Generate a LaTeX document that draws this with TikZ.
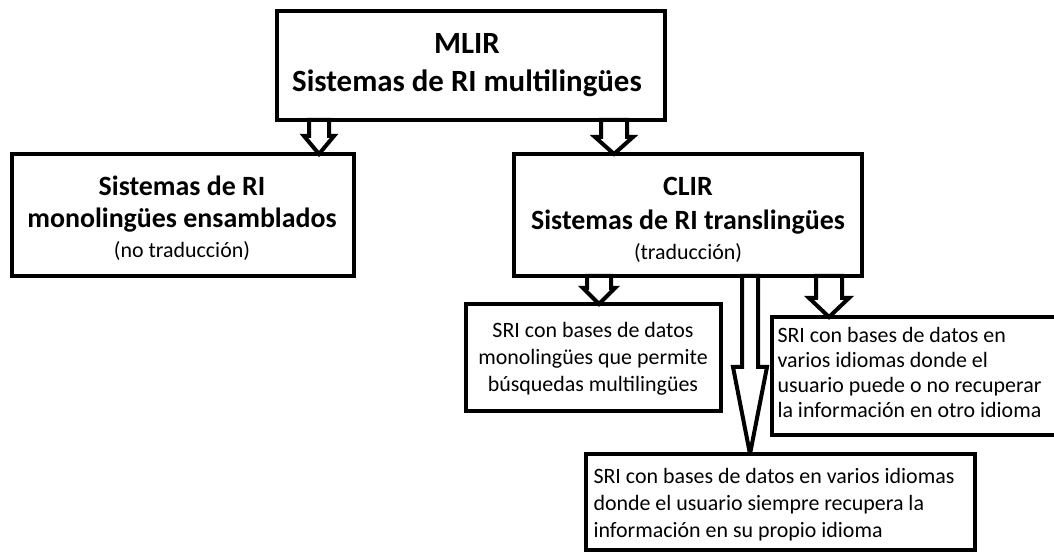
\documentclass[tikz,border=0pt]{standalone}
\usepackage{fontspec}
\setmainfont{Carlito}
\usetikzlibrary{calc}
\newcommand\blockarr[6]{%
  % #1 source node, #2 target node, #3 centre coordinate, #4 shaft half width, #5 head half width, #6 head length
  \draw[blk] ($(#3 |- #1.south)+(-#4,0)$) -- ($(#3 |- #2.north)+(-#4,-#6)$) -- ($(#3 |- #2.north)+(-#5,-#6)$)
    -- (#3 |- #2.north) -- ($(#3 |- #2.north)+(#5,-#6)$) -- ($(#3 |- #2.north)+(#4,-#6)$)
    -- ($(#3 |- #1.south)+(#4,0)$) -- cycle;}
\begin{document}
\begin{tikzpicture}[x=1bp,y=-1bp,
  box/.style={draw=black,line width=4bp,inner sep=0pt,outer sep=0pt,fill=white},
  blk/.style={draw=black,fill=white,line width=4bp,line join=miter,miter limit=3},
  ttl/.style={font=\bfseries\fontsize{31}{39}\selectfont,align=center},
  sub/.style={font=\bfseries\fontsize{28}{30}\selectfont,align=center},
  txt/.style={font=\fontsize{22}{27}\selectfont}]
\useasboundingbox (0,0) rectangle (1054,554);
\clip (0,0) rectangle (1054,554);
% boxes
\node[box,minimum width=388bp,minimum height=109bp] (mlir) at (471,65.5) {};
\node[box,minimum width=342bp,minimum height=122bp] (mono) at (183,215) {};
\node[box,minimum width=348bp,minimum height=122bp] (clir) at (688,215) {};
\node[box,minimum width=255bp,minimum height=107bp] (sri1) at (593.5,357.5) {};
\node[box,minimum width=298bp,minimum height=118bp] (sri3) at (921,376) {};
\node[box,minimum width=389bp,minimum height=96bp] (sri2) at (780.5,502) {};
% texts
\node[ttl,anchor=base] (mlirtext) at (467,92) {MLIR\\Sistemas de RI multilingües};
\node[sub,anchor=base,font=\bfseries\fontsize{28}{32}\selectfont] (monotext) at (182,258) {Sistemas de RI\\monolingües ensamblados\\[-1bp]{\mdseries\fontsize{22}{30}\selectfont (no traducción)}};
\node[sub,anchor=base] (clirtext) at (688,260) {CLIR\\[4bp]Sistemas de RI translingües\\[1bp]{\mdseries\fontsize{22}{30}\selectfont (traducción)}};
\node[txt,align=center,anchor=base] (sri1text) at (593,391) {SRI con bases de datos\\monolingües que permite\\búsquedas multilingües};
\node[txt,align=left,anchor=base west,font=\fontsize{22}{25}\selectfont] (sri3text) at (774,417) {SRI con bases de datos en\\varios idiomas donde el\\usuario puede o no recuperar\\la información en otro idioma};
\node[txt,align=left,anchor=base west] (sri2text) at (590,537) {SRI con bases de datos en varios idiomas\\donde el usuario siempre recupera la\\información en su propio idioma};
% arrow centres
\coordinate (ca) at (319,0);
\coordinate (cb) at (614,0);
\coordinate (cc) at (599,0);
\coordinate (cd) at (750,0);
\coordinate (ce) at (829,0);
% block arrows
\blockarr{mlir}{mono}{ca}{10}{15}{18}
\blockarr{mlir}{clir}{cb}{13}{19}{17}
\blockarr{clir}{sri1}{cc}{12}{16}{16}
\blockarr{clir}{sri2}{cd}{8}{17}{87}
\blockarr{clir}{sri3}{ce}{13}{20}{19}
\end{tikzpicture}
\end{document}
